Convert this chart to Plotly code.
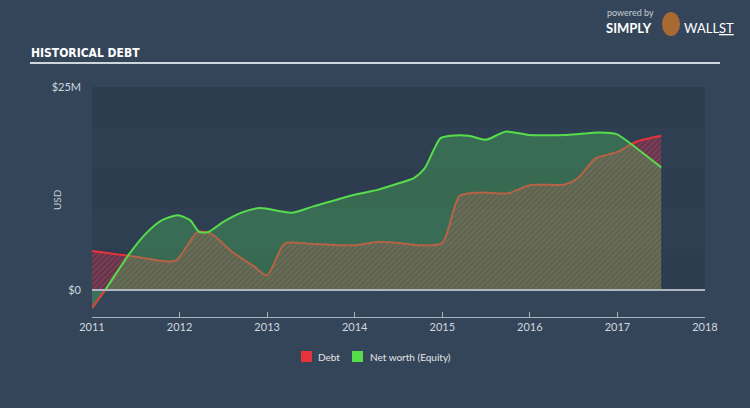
import plotly.graph_objects as go

# ---- data (fractional years, USD millions) ----
debt_x = [2011.0, 2011.5, 2011.95, 2012.2, 2012.35, 2012.6, 2012.85, 2013.0, 2013.2, 2013.5,
          2014.0, 2014.25, 2014.5, 2014.75, 2015.0, 2015.2, 2015.45, 2015.75, 2016.0, 2016.4,
          2016.55, 2016.75, 2017.0, 2017.2, 2017.5]
debt_y = [4.8, 4.1, 3.6, 7.1, 7.0, 4.7, 2.9, 1.8, 5.7, 5.7,
          5.5, 5.9, 5.8, 5.5, 5.8, 11.6, 12.0, 11.9, 12.9, 13.0,
          13.8, 16.2, 17.0, 18.2, 19.0]

equity_x = [2011.0, 2011.15, 2011.43, 2011.62, 2011.8, 2011.98, 2012.12, 2012.22, 2012.32, 2012.5,
            2012.7, 2012.92, 2013.15, 2013.28, 2013.53, 2014.02, 2014.25, 2014.52, 2014.68, 2014.8,
            2014.9, 2014.98, 2015.1, 2015.3, 2015.5, 2015.72, 2015.98, 2016.42, 2016.8, 2016.99,
            2017.14, 2017.5]
equity_y = [-2.2, 0.0, 4.5, 7.0, 8.6, 9.2, 8.6, 7.2, 7.1, 8.4,
            9.5, 10.1, 9.7, 9.5, 10.3, 11.8, 12.3, 13.2, 13.8, 15.0,
            17.2, 18.7, 19.0, 19.0, 18.5, 19.5, 19.1, 19.1, 19.4, 19.2,
            18.1, 15.1]

year_ticks = [2011, 2012, 2013, 2014, 2015, 2016, 2017, 2018]
y_tick_vals = [0, 25]
y_tick_text = ["$0", "$25M"]
legend_names = ["Debt", "Net worth (Equity)"]

BG = "#34455a"
RED = "#e8323a"
GREEN = "#57dd4c"

# plot-area pixel geometry helpers
L, R, T, B = 92, 45, 87, 91
PW, PH = 750 - L - R, 408 - T - B


def px(x):
    return (x - L) / PW


def py(y):
    return (408 - B - y) / PH


fig = go.Figure()

# background bands (0..25M in 5M steps)
for i, lo in enumerate(range(0, 25, 5)):
    fig.add_shape(type="rect", xref="x", yref="y", x0=2011, x1=2018, y0=lo, y1=lo + 5,
                  fillcolor="rgba(0,0,0,0.13)" if i % 2 == 0 else "rgba(0,0,0,0.08)",
                  line_width=0, layer="below")

fig.add_trace(go.Scatter(
    x=debt_x, y=debt_y, mode="lines", name=legend_names[0], showlegend=False,
    line=dict(color=RED, width=2, shape="spline", smoothing=0.7),
    fill="tozeroy", fillcolor="rgba(190,40,70,0.35)",
    fillpattern=dict(shape="/", fgcolor="rgba(235,90,110,0.55)", size=4, solidity=0.35,
                     fillmode="overlay"),
))
fig.add_trace(go.Scatter(
    x=equity_x, y=equity_y, mode="lines", name=legend_names[1], showlegend=False,
    line=dict(color=GREEN, width=2, shape="spline", smoothing=0.7),
    fill="tozeroy", fillcolor="rgba(80,200,90,0.33)",
))
# negative part of equity drawn red
fig.add_trace(go.Scatter(
    x=equity_x[:2], y=equity_y[:2], mode="lines", showlegend=False, hoverinfo="skip",
    line=dict(color=RED, width=2),
))

# zero line
fig.add_shape(type="line", xref="x", yref="y", x0=2011, x1=2018, y0=0, y1=0,
              line=dict(color="#aeb6bf", width=2), layer="above")

# manual legend
for (sx, tx, col, name) in [(301, 316, RED, legend_names[0]), (352, 368, GREEN, legend_names[1])]:
    fig.add_shape(type="rect", xref="paper", yref="paper",
                  x0=px(sx), x1=px(sx + 11), y0=py(362), y1=py(351),
                  fillcolor=col, line_width=0)
    fig.add_annotation(text=name, xref="paper", yref="paper", x=px(tx), y=py(356.5),
                       xanchor="left", yanchor="middle", showarrow=False,
                       font=dict(family="Lato, sans-serif", size=10, color="#e6e6e6"))

# title + underline
fig.add_annotation(text="<b>HISTORICAL DEBT</b>", xref="paper", yref="paper",
                   x=px(29), y=py(53), xanchor="left", yanchor="middle",
                   showarrow=False,
                   font=dict(family="DejaVu Sans Condensed, DejaVu Sans, sans-serif",
                             size=12, color="#ffffff"))
fig.add_shape(type="line", xref="paper", yref="paper",
              x0=px(30), x1=px(720), y0=py(63), y1=py(63),
              line=dict(color="#cdd5dd", width=2))

# logo text
fig.add_annotation(text="powered by", xref="paper", yref="paper",
                   x=px(606), y=py(12), xanchor="left", yanchor="middle", borderpad=0,
                   showarrow=False, font=dict(family="Lato, sans-serif", size=9, color="#c5cdd5"))
fig.add_annotation(text="<b>SIMPLY</b>", xref="paper", yref="paper",
                   x=px(605), y=py(28), xanchor="left", yanchor="middle", borderpad=0,
                   showarrow=False, font=dict(family="Lato, sans-serif", size=13, color="#ffffff"))
fig.add_annotation(text="WALL<u>ST</u>", xref="paper", yref="paper",
                   x=px(683), y=py(28), xanchor="left", yanchor="middle", borderpad=0,
                   showarrow=False, font=dict(family="Lato, sans-serif", size=13, color="#ffffff"))
fig.add_shape(type="circle", xref="paper", yref="paper",
              x0=px(662), x1=px(680), y0=py(36), y1=py(12),
              fillcolor="#a86a32", line_width=0)

# USD label
fig.add_annotation(text="USD", xref="paper", yref="paper",
                   x=px(57), y=py(200), textangle=-90,
                   xanchor="center", yanchor="middle", showarrow=False,
                   font=dict(family="Lato, sans-serif", size=10, color="#c8d0d8"))

fig.update_layout(
    width=750, height=408,
    margin=dict(l=L, r=R, t=T, b=B),
    paper_bgcolor=BG, plot_bgcolor=BG,
    font=dict(family="Lato, sans-serif", color="#d0d7de", size=11),
    showlegend=False,
    xaxis=dict(range=[2011, 2018], tickvals=year_ticks, ticktext=[str(v) for v in year_ticks],
               showgrid=False, zeroline=False, showline=True, linecolor="#a9b3be", linewidth=1,
               ticks="inside", ticklen=5, tickcolor="#a9b3be",
               tickfont=dict(size=11, color="#d0d7de"), fixedrange=True),
    yaxis=dict(range=[-3.33, 25], tickvals=y_tick_vals, ticktext=y_tick_text,
               showgrid=False, zeroline=False, showline=False, ticks="",
               ticklabelstandoff=10,
               tickfont=dict(size=11, color="#d0d7de"), fixedrange=True),
)

fig.write_html("out.html", config={"displayModeBar": False},
               post_script="document.body.style.margin='0';")
